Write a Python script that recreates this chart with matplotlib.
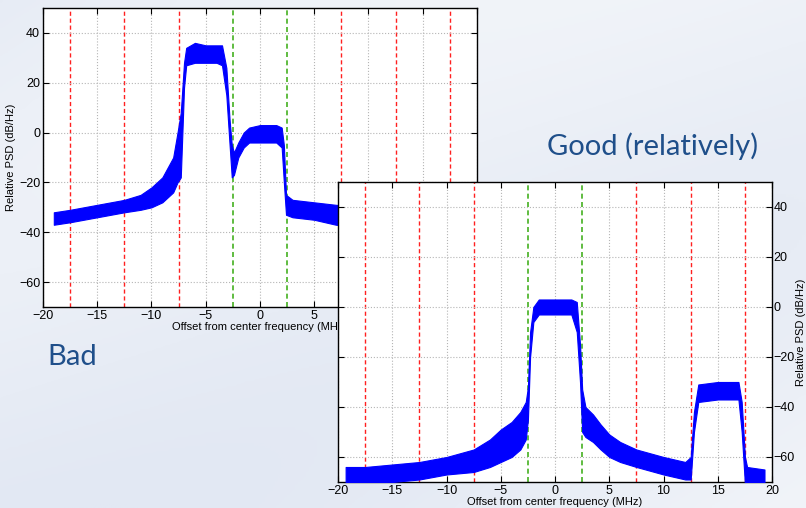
import numpy as np
import matplotlib
matplotlib.use('Agg')
import matplotlib.pyplot as plt

plt.rcParams['font.family'] = ['Liberation Sans', 'DejaVu Sans']

# "Bad" spectrum: frequency (MHz) with lower / upper edge of the noisy trace (dB/Hz)
bad_freq = [-19.0, -17.5, -15.0, -12.5, -11.0, -10.0, -9.0, -8.5, -8.0, -7.6, -7.3, -7.0, -6.8, -6.0,
            -5.0, -4.0, -3.5, -3.1, -2.8, -2.6, -2.4, -2.0, -1.5, -1.0, 0.0, 1.5, 2.0, 2.2, 2.4,
            3.0, 5.0, 7.0, 10.0, 15.0, 19.0]
bad_low = [-37, -36, -34, -32, -31, -30, -28, -26, -24, -20, -18, 18, 27, 28,
           28, 28, 27, 15, -5, -18, -17, -10, -6, -4, -4, -4, -6, -20, -33,
           -34, -35, -37, -38, -38, -38]
bad_high = [-32, -31, -29, -27, -25, -22, -18, -14, -10, 0, 8, 28, 34, 36,
            35, 35, 35, 26, 5, -5, -8, -4, 0, 2, 3, 3, 2, -5, -25,
            -27, -28, -29, -30, -31, -32]

# "Good" spectrum
good_freq = [-19.3, -17.5, -15.0, -12.5, -10.0, -7.5, -6.0, -5.0, -4.0, -3.2, -2.7, -2.5, -2.3,
             -2.0, -1.5, 0.0, 1.5, 2.0, 2.3, 2.5, 2.8, 3.5, 4.2, 5.0, 6.0, 7.5, 10.0, 12.0, 12.5,
             12.8, 13.2, 15.0, 16.9, 17.2, 17.5, 17.7, 19.3]
good_low = [-71, -71, -70, -69, -67, -66, -64, -62, -60, -57, -53, -45, -20,
            -6, -3, -3, -3, -10, -30, -50, -52, -54, -57, -60, -62, -64, -67, -69, -69,
            -50, -38, -37, -37, -50, -71, -71, -71]
good_high = [-64, -64, -63, -62, -60, -57, -53, -49, -46, -42, -38, -32, -10,
             0, 3, 3, 3, 2, -15, -33, -40, -43, -47, -51, -54, -57, -60, -62, -60,
             -42, -31, -30, -30, -38, -60, -64, -65]

xticks = [-20, -15, -10, -5, 0, 5, 10, 15, 20]
yticks = [-60, -40, -20, 0, 20, 40]
red_lines = [-17.5, -12.5, -7.5, 7.5, 12.5, 17.5]
green_lines = [-2.5, 2.5]

fig = plt.figure(figsize=(8.06, 5.08), dpi=100)

# slide background
bg = fig.add_axes([0, 0, 1, 1], zorder=0)
yy, xx = np.mgrid[0:1:200j, 0:1:300j]
shade = 0.5 + 0.25 * np.sin(3 * xx + 4 * yy) + 0.25 * xx
bg.imshow(shade, cmap=matplotlib.colors.LinearSegmentedColormap.from_list('bg', ['#e2e8f3', '#f1f4f9']),
          aspect='auto', extent=[0, 1, 0, 1])
bg.axis('off')


def draw_psd(ax, freq, low, high):
    ax.set_facecolor('white')
    for x in red_lines:
        ax.axvline(x, color='#ff2020', ls=(0, (3, 2)), lw=1, zorder=1)
    for x in green_lines:
        ax.axvline(x, color='#44b020', ls=(0, (3, 2)), lw=1.2, zorder=1)
    ax.fill_between(freq, low, high, color='#0000ff', lw=0.8, zorder=3)
    ax.set_xlim(-20, 20)
    ax.set_ylim(-70, 50)
    ax.set_xticks(xticks)
    ax.set_yticks(yticks)
    ax.grid(True, color='#b5b5b5', ls=':', lw=0.8, zorder=0)
    ax.tick_params(direction='in', top=True, right=True, left=True, labelsize=9, length=4, pad=2)
    ax.set_xlabel('Offset from center frequency (MHz)', fontsize=8, labelpad=0)
    for s in ax.spines.values():
        s.set_linewidth(1)


# Bad plot
ax1 = fig.add_axes([0.0533, 0.3957, 0.5385, 0.5886], zorder=1)
draw_psd(ax1, bad_freq, bad_low, bad_high)
ax1.set_ylabel('Relative PSD (dB/Hz)', fontsize=8, labelpad=2)

# Good plot, drawn on top of the bad one
ax2 = fig.add_axes([0.4194, 0.0512, 0.5385, 0.5906], zorder=2)
draw_psd(ax2, good_freq, good_low, good_high)
ax2.yaxis.tick_right()
ax2.yaxis.set_label_position('right')
ax2.tick_params(axis='y', left=True, right=True, labelleft=False, labelright=True, pad=1)
ax2.set_ylabel('Relative PSD (dB/Hz)', fontsize=8, labelpad=1)

fig.text(547 / 806, 1 - 155 / 508, 'Good (relatively)', fontsize=21, color='#1f4f8a',
         family=['Lato', 'DejaVu Sans'], va='baseline', zorder=3)
fig.text(47 / 806, 1 - 365 / 508, 'Bad', fontsize=21, color='#1f4f8a',
         family=['Lato', 'DejaVu Sans'], va='baseline', zorder=3)

fig.savefig('out.png', dpi=100)
